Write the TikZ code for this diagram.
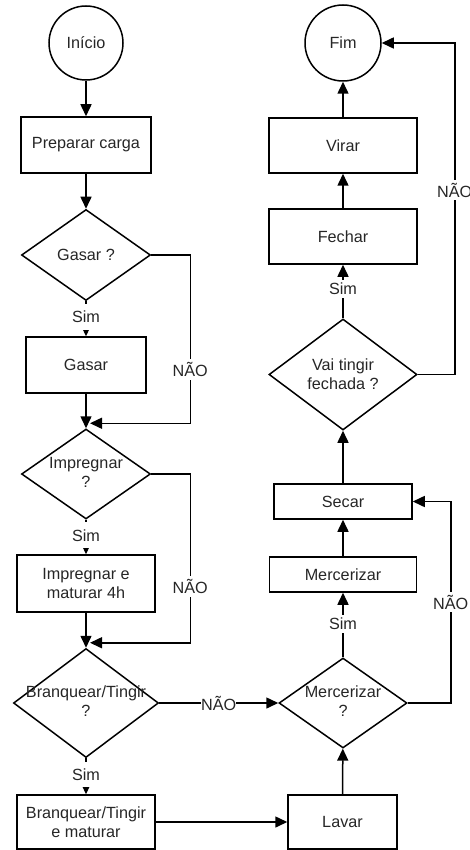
\documentclass[tikz,border=0pt]{standalone}
\usepackage{fontspec}
\setmainfont{Liberation Sans}
\usetikzlibrary{shapes.geometric,arrows.meta}

\tikzset{
  txt/.style={text=black!85, align=center, font=\fontsize{16.2}{19}\selectfont},
  base/.style={txt, draw=black, line width=1.5pt},
  terminal/.style={base, circle, inner sep=0pt},
  process/.style={base, rectangle, inner sep=0pt},
  decision/.style={base, diamond, inner sep=0pt},
  arr/.style={line width=1.5pt, -{Triangle[length=12pt,width=11pt]}},
  lbl/.style={txt, fill=white, inner xsep=1pt, inner ysep=3pt},
  simlbl/.style={lbl, inner ysep=7pt}
}

\begin{document}
\begin{tikzpicture}[x=1pt,y=-1pt]
\useasboundingbox (0,0) rectangle (470,850);

% left column
\node[terminal, minimum size=74pt] (inicio) at (86,43) {Início};
\node[process, minimum width=130pt, minimum height=56pt] (prep) at (86,145) {Preparar carga};
\node[decision, minimum width=129pt, minimum height=91pt] (gasarq) at (86,255) {};
\node[txt] at (gasarq.center) {Gasar ?};
\node[process, minimum width=120pt, minimum height=56pt] (gasar) at (86,365) {Gasar};
\node[decision, minimum width=129pt, minimum height=90pt] (imprq) at (86,474) {};
\node[txt] at ([yshift=2pt]imprq.center) {Impregnar\\?};
\node[process, minimum width=138pt, minimum height=57pt] (impr) at (86,583.5) {Impregnar e\\maturar 4h};
\node[decision, minimum width=145pt, minimum height=109pt] (branq) at (86,703) {};
\node[txt] at ([yshift=2pt]branq.center) {Branquear/Tingir\\?};
\node[process, minimum width=138pt, minimum height=54pt] (branbox) at (86,822) {Branquear/Tingir\\e maturar};

% right column
\node[process, minimum width=109pt, minimum height=54pt] (lavar) at (342.5,822) {Lavar};
\node[decision, minimum width=128pt, minimum height=90pt] (merq) at (343,703) {};
\node[txt] at ([yshift=2pt]merq.center) {Mercerizar\\?};
\node[process, minimum width=147pt, minimum height=35pt] (merc) at (343,574.5) {Mercerizar};
\node[process, minimum width=138pt, minimum height=35pt] (secar) at (343,501.5) {Secar};
\node[decision, minimum width=148pt, minimum height=111pt] (vaiq) at (343,374.5) {};
\node[txt] at (vaiq.center) {Vai tingir\\fechada ?};
\node[process, minimum width=148pt, minimum height=55pt] (fechar) at (343,236.5) {Fechar};
\node[process, minimum width=148pt, minimum height=55pt] (virar) at (343,145.5) {Virar};
\node[terminal, minimum size=76pt] (fim) at (343,43) {Fim};

% connectors, left column
\draw[arr] (inicio) -- (prep);
\draw[arr] (prep) -- (gasarq);
\draw[arr] (gasarq.south) -- node[simlbl, pos=0.45] {Sim} (gasar.north);
\draw[arr] (gasarq.east) -- ++(39,0) |- node[lbl, pos=0.34] {NÃO} ([xshift=4pt,yshift=5pt]imprq.north);
\draw[arr] (gasar) -- (imprq);
\draw[arr] (imprq.south) -- node[simlbl, pos=0.45] {Sim} (impr.north);
\draw[arr] (imprq.east) -- ++(39,0) |- node[lbl, pos=0.333] {NÃO} ([xshift=4pt,yshift=5pt]branq.north);
\draw[arr] (impr) -- (branq);
\draw[arr] (branq.south) -- node[simlbl, pos=0.45] {Sim} (branbox.north);
\draw[arr] (branq.east) -- node[lbl, pos=0.5, inner xsep=0pt] {NÃO} (merq.west);
\draw[arr] (branbox) -- (lavar);

% connectors, right column
\draw[arr] (lavar) -- (merq);
\draw[arr] (merq.north) -- node[lbl, pos=0.52] {Sim} (merc.south);
\draw[arr] (merq.east) -- ++(43,0) |- node[lbl, pos=0.25] {NÃO} (secar.east);
\draw[arr] (merc) -- (secar);
\draw[arr] (secar) -- (vaiq);
\draw[arr] (vaiq.north) -- node[lbl, pos=0.55] {Sim} (fechar.south);
\draw[arr] (vaiq.east) -- ++(37,0) |- node[lbl, pos=0.278] {NÃO} (fim.east);
\draw[arr] (fechar) -- (virar);
\draw[arr] (virar) -- (fim);
\end{tikzpicture}
\end{document}
